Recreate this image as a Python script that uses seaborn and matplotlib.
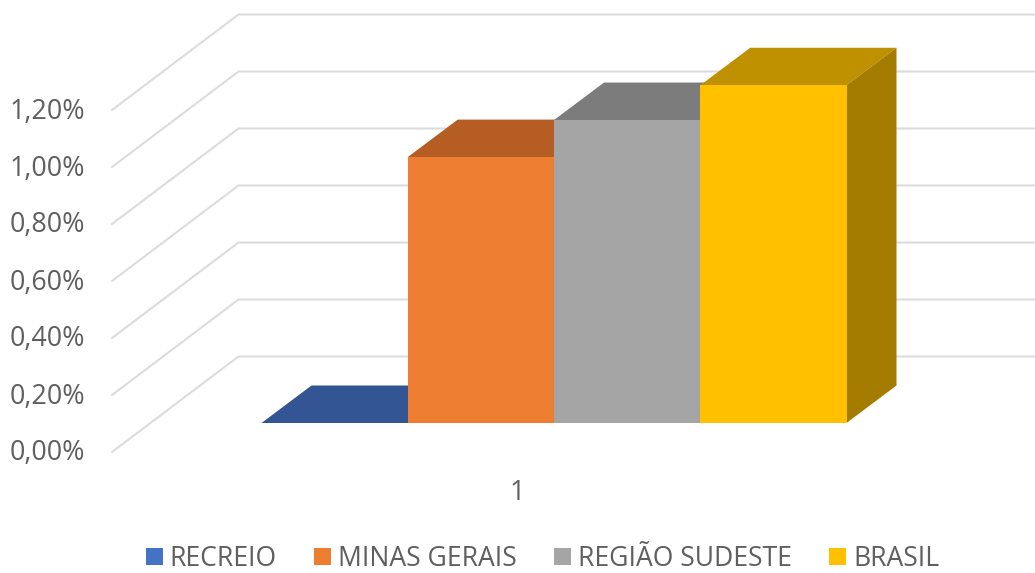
import matplotlib
matplotlib.use("Agg")
import matplotlib.pyplot as plt
import pandas as pd
import seaborn as sns
from matplotlib.patches import Polygon, Rectangle
from matplotlib.ticker import FuncFormatter

# ---- data ----
group = ["1"]
series = ["RECREIO", "MINAS GERAIS", "REGIÃO SUDESTE", "BRASIL"]
values = [0.0, 0.933, 1.063, 1.185]
y_ticks = [0.0, 0.2, 0.4, 0.6, 0.8, 1.0, 1.2]

# ---- styles ----
front_colors = ["#4472C4", "#ED7D31", "#A5A5A5", "#FFC000"]
top_colors = ["#335593", "#B55D22", "#7C7C7C", "#BF9000"]
side_colors = ["#2A4579", "#954D1C", "#666666", "#A47C00"]
grid_color = "#DCDCDC"
text_color = "#5F5F5F"
W, H = 1035, 573
PX_X = 585.0   # pixels per x unit
PX_Y = 285.0   # pixels per 1 %
X0_PX = 554.0  # pixel of the group centre
Y0_PX = 423.0  # pixel of the bars' base
DX = 50 / PX_X   # depth offset
DY = 37.5 / PX_Y
FONT = 19.4
LEGEND_FONT = 19.1

sns.set_theme(style="white")
plt.rcParams["font.family"] = ["Open Sans", "DejaVu Sans"]

df = pd.DataFrame({"group": group * len(series), "series": series, "value": values})

fig = plt.figure(figsize=(W / 100, H / 100), dpi=100)
ax = fig.add_axes([0, 0, 1, 1])
sns.barplot(data=df, x="group", y="value", hue="series", hue_order=series,
            palette=front_colors, width=1.0, saturation=1, gap=0, dodge=True,
            linewidth=0, ax=ax, zorder=3)
ax.set_xlim(-X0_PX / PX_X, (W - X0_PX) / PX_X)
ax.set_ylim(-(H - Y0_PX) / PX_Y, Y0_PX / PX_Y)
ax.set_xlabel("")
ax.set_ylabel("")
ax.set_xticks([])
ax.set_yticks([])
for s in ax.spines.values():
    s.set_visible(False)
ax.patch.set_alpha(0)

# back wall gridlines with their floor / side-wall diagonals
wall_left = (112 - X0_PX) / PX_X
wall_back = (238.5 - X0_PX) / PX_X
front_shift = -(452 - Y0_PX) / PX_Y
back_shift = (Y0_PX - 356.5) / PX_Y
x_right = ax.get_xlim()[1]
for v in y_ticks:
    ax.plot([wall_left, wall_back, x_right],
            [v + front_shift, v + back_shift, v + back_shift],
            color=grid_color, lw=1.5, zorder=1, solid_joinstyle="miter")

# 3-D faces derived from each bar's geometry, left to right
for i, cont in enumerate(ax.containers):
    for bar in cont:
        x, w, y = bar.get_x(), bar.get_width(), bar.get_height()
        z = 3 + i * 0.1
        bar.set_zorder(z + 0.02)
        ax.add_patch(Polygon([(x, y), (x + DX, y + DY), (x + w + DX, y + DY), (x + w, y)],
                             closed=True, fc=top_colors[i], ec="none", zorder=z))
        ax.add_patch(Polygon([(x + w, 0), (x + w + DX, DY), (x + w + DX, y + DY), (x + w, y)],
                             closed=True, fc=side_colors[i], ec="none", zorder=z + 0.01))

# value axis labels
sec_y = ax.secondary_yaxis(92 / W, functions=(lambda t: t - front_shift - 2 / PX_Y, lambda t: t + front_shift + 2 / PX_Y))
sec_y.set_yticks(y_ticks)
sec_y.yaxis.set_major_formatter(FuncFormatter(lambda v, _: f"{v:.2f}%".replace(".", ",")))
sec_y.tick_params(axis="y", length=0, pad=5, labelsize=FONT, labelcolor=text_color)
sec_y.spines["left"].set_visible(False)

# category axis label
label_shift = 37.0 / PX_X
sec_x = ax.secondary_xaxis(1 - 479 / H, functions=(lambda t: t + label_shift, lambda t: t - label_shift))
sec_x.set_xticks([0], labels=group)
sec_x.tick_params(axis="x", length=0, pad=0, labelsize=FONT, labelcolor=text_color)
sec_x.spines["bottom"].set_visible(False)

# legend
leg = ax.get_legend()
if leg:
    leg.remove()
handles = [Rectangle((0, 0), 1, 1, fc=c, ec="none") for c in front_colors]
ax.legend(handles, series, loc="center", bbox_to_anchor=(542.5 / W, 1 - 559 / H),
          ncol=4, frameon=False, fontsize=LEGEND_FONT, labelcolor=text_color,
          handlelength=0.64, handleheight=0.64, handletextpad=0.25,
          columnspacing=1.42, borderpad=0, borderaxespad=0)

fig.savefig("out.png", dpi=100, facecolor="white")
